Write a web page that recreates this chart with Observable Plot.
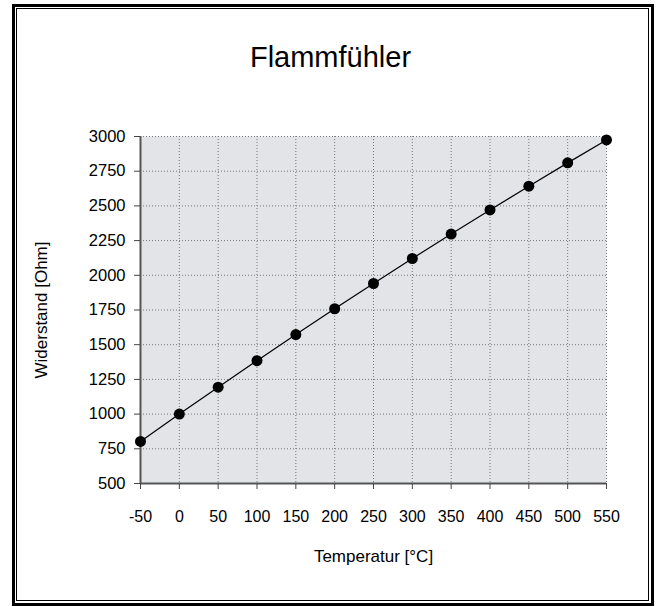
<!DOCTYPE html>
<html>
<head>
<meta charset="utf-8">
<script src="https://cdn.jsdelivr.net/npm/d3@7"></script>
<script src="https://cdn.jsdelivr.net/npm/@observablehq/plot@0.6"></script>
<style>
  html, body { margin: 0; padding: 0; background: #fff; }
  #wrap { position: relative; width: 657px; height: 606px; overflow: hidden; font-family: "Liberation Sans", Arial, sans-serif; }
  #outer { position: absolute; left: 12px; top: 4px; width: 636px; height: 596px; border: 3px solid #000; }
  #inner { position: absolute; left: 16px; top: 8px; width: 631px; height: 591px; border: 1px solid #000; }
  #title { position: absolute; left: 2px; width: 657px; top: 43px; text-align: center; font-size: 29px; line-height: 1; color: #000; }
  #chart { position: absolute; left: 0; top: 0; }
</style>
</head>
<body>
<div id="wrap">
  <div id="outer"></div>
  <div id="inner"></div>
  <div id="chart"></div>
  <div id="title">Flammfühler</div>
</div>
<script>
// Data (temperature in °C, resistance in Ohm)
const temperatures = [-50, 0, 50, 100, 150, 200, 250, 300, 350, 400, 450, 500, 550];
const resistances = [803, 1000, 1194, 1385, 1573, 1759, 1941, 2121, 2297, 2471, 2642, 2810, 2975];
const xTicks = [-50, 0, 50, 100, 150, 200, 250, 300, 350, 400, 450, 500, 550];
const yTicks = [500, 750, 1000, 1250, 1500, 1750, 2000, 2250, 2500, 2750, 3000];
const titleText = "Flammfühler";
const xLabel = "Temperatur [°C]";
const yLabel = "Widerstand [Ohm]";

const data = temperatures.map((t, i) => ({t, r: resistances[i]}));
const xDomain = [xTicks[0], xTicks[xTicks.length - 1]];
const yDomain = [yTicks[0], yTicks[yTicks.length - 1]];

document.getElementById("title").textContent = titleText;

const chart = Plot.plot({
  width: 657,
  height: 606,
  marginLeft: 140,
  marginRight: 51,
  marginTop: 136,
  marginBottom: 123,
  style: { fontFamily: "'Liberation Sans', Arial, sans-serif", fontSize: "17px", background: "transparent", color: "#000" },
  x: { domain: xDomain, ticks: xTicks },
  y: { domain: yDomain, ticks: yTicks },
  marks: [
    Plot.frame({ fill: "#e2e4e7", stroke: null }),
    Plot.gridX(xTicks, { stroke: "#777", strokeOpacity: 1, strokeDasharray: "1,2" }),
    Plot.gridY(yTicks, { stroke: "#777", strokeOpacity: 1, strokeDasharray: "1,2" }),
    Plot.ruleX([xDomain[0]], { stroke: "#555", strokeWidth: 2 }),
    Plot.ruleY([yDomain[0]], { stroke: "#555", strokeWidth: 2 }),
    Plot.axisX({ ticks: xTicks, tickSize: 6, tickPadding: 21, stroke: "#444", fontSize: 16, tickFormat: d => String(d), label: null }),
    Plot.axisX({ ticks: [], tickSize: 0, label: xLabel, labelAnchor: "center", labelArrow: false, labelOffset: 78, fontSize: 17 }),
    Plot.axisY({ ticks: yTicks, tickSize: 6, tickPadding: 9, stroke: "#444", fontSize: 16.5, tickFormat: d => String(d), label: null }),
    Plot.axisY({ ticks: [], tickSize: 0, label: yLabel, labelAnchor: "center", labelArrow: false, labelOffset: 106, fontSize: 17 }),
    Plot.line(data, { x: "t", y: "r", stroke: "#000", strokeWidth: 1.2 }),
    Plot.dot(data, { x: "t", y: "r", r: 5.5, fill: "#000", stroke: null })
  ]
});
document.getElementById("chart").appendChild(chart);
</script>
</body>
</html>
